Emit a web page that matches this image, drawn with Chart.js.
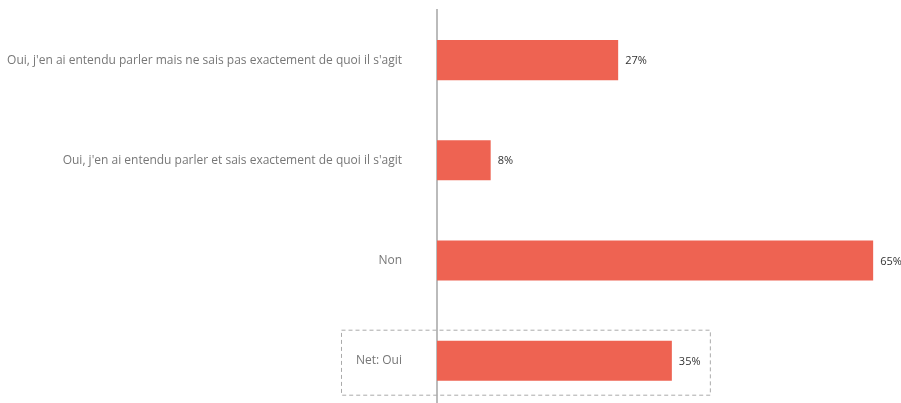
<!DOCTYPE html>
<html>
<head>
<meta charset="utf-8">
<script src="https://cdn.jsdelivr.net/npm/chart.js@4.4.1/dist/chart.umd.min.js"></script>
<style>
  html, body { margin: 0; padding: 0; background: #fff; overflow: hidden; }
  #wrap { position: absolute; left: 0; top: 0; width: 901px; height: 420px; }
</style>
</head>
<body>
<div id="wrap"><canvas id="c"></canvas></div>
<script>
const categories = [
  "Oui, j'en ai entendu parler mais ne sais pas exactement de quoi il s'agit",
  "Oui, j'en ai entendu parler et sais exactement de quoi il s'agit",
  "Non",
  "Net: Oui"
];
const values = [27, 8, 65, 35];
const highlightIndex = 3;

const barColor = '#EE6352';

const valueLabels = {
  id: 'valueLabels',
  afterDatasetsDraw(chart) {
    const ctx = chart.ctx;
    const meta = chart.getDatasetMeta(0);
    ctx.save();
    ctx.font = '11px "Open Sans", sans-serif';
    ctx.fillStyle = '#333';
    ctx.textAlign = 'left';
    ctx.textBaseline = 'middle';
    meta.data.forEach((bar, i) => {
      ctx.fillText(values[i] + '%', bar.x + 7, bar.y + 1);
    });
    ctx.restore();
  }
};

const netBox = {
  id: 'netBox',
  afterDraw(chart) {
    const ctx = chart.ctx;
    const y = chart.scales.y.getPixelForValue(highlightIndex);
    const x = chart.scales.x;
    const left = chart.chartArea.left - 96;
    const right = x.getPixelForValue(values[highlightIndex]) + 38;
    ctx.save();
    ctx.strokeStyle = '#aaa';
    ctx.lineWidth = 1;
    ctx.setLineDash([4, 3]);
    ctx.strokeRect(left + 0.5, y - 31 + 0.5, right - left, 65);
    ctx.restore();
  }
};

new Chart(document.getElementById('c'), {
  type: 'bar',
  data: {
    labels: categories,
    datasets: [{
      data: values,
      backgroundColor: barColor,
      borderWidth: 0,
      barPercentage: 0.5,
      categoryPercentage: 0.8
    }]
  },
  options: {
    indexAxis: 'y',
    responsive: true,
    maintainAspectRatio: false,
    animation: false,
    devicePixelRatio: 1,
    layout: { padding: { top: 10, bottom: 0, left: 0, right: 1 } },
    plugins: { legend: { display: false }, tooltip: { enabled: false } },
    scales: {
      x: {
        display: false,
        min: 0,
        max: 69
      },
      y: {
        afterFit(scale) { scale.width = 437; },
        grid: { display: false, drawTicks: true, tickLength: 33 },
        border: { display: true, color: '#bbb', width: 2 },
        ticks: {
          padding: 2,
          color: '#777',
          font: { family: '"Open Sans", sans-serif', size: 12 }
        }
      }
    }
  },
  plugins: [valueLabels, netBox]
});
</script>
</body>
</html>
